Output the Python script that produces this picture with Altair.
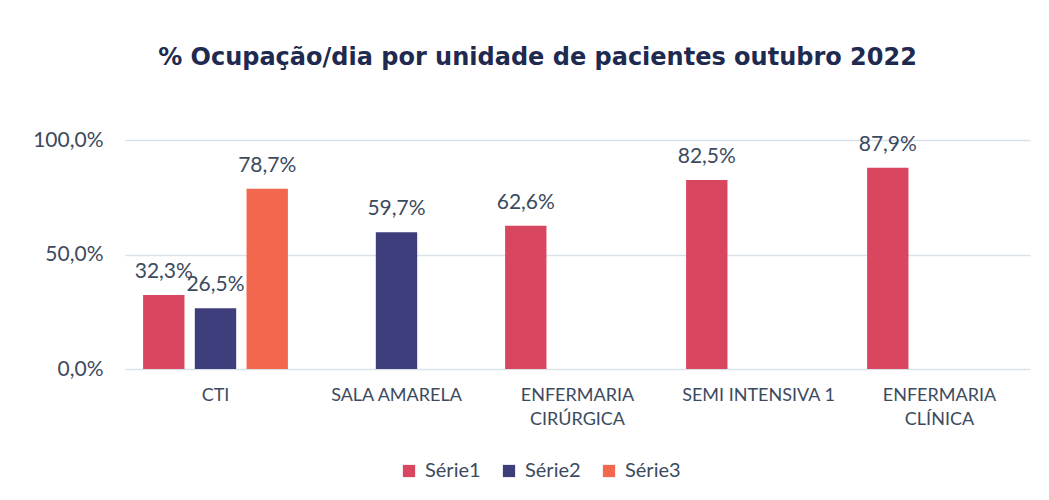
import altair as alt
import pandas as pd

categories = ["CTI", "SALA AMARELA", "ENFERMARIA CIRÚRGICA", "SEMI INTENSIVA 1", "ENFERMARIA CLÍNICA"]
series_names = ["Série1", "Série2", "Série3"]
serie1 = [0.323, None, 0.626, 0.825, 0.879]
serie2 = [0.265, 0.597, None, None, None]
serie3 = [0.787, None, None, None, None]
colors = ["#D8465F", "#3F3E7D", "#F2684F"]

rows = []
for name, vals in zip(series_names, [serie1, serie2, serie3]):
    for cat, v in zip(categories, vals):
        if v is not None:
            rows.append({"unidade": cat, "serie": name, "valor": v})
df = pd.DataFrame(rows)

FONT = "Lato"
TXT = "#3C4A5E"

base = alt.Chart(df).encode(
    x=alt.X("unidade:N", sort=categories, title=None,
            scale=alt.Scale(paddingInner=0.2, paddingOuter=0.1),
            axis=alt.Axis(labelAngle=0, labelFont=FONT, labelFontSize=18, labelColor=TXT,
                          labelPadding=17, ticks=False, domain=False, labelLimit=300,
                          labelLineHeight=24,
                          labelExpr="indexof(datum.value, 'ENFERMARIA ') == 0 ? ['ENFERMARIA', substring(datum.value, 11)] : datum.value")),
    xOffset=alt.XOffset("serie:N", sort=series_names,
                        scale=alt.Scale(domain=series_names, paddingInner=0.2, paddingOuter=0.0)),
    y=alt.Y("valor:Q", title=None,
            scale=alt.Scale(domain=[0, 1]),
            axis=alt.Axis(values=[0, 0.5, 1], labelFont=FONT, labelFontSize=21, labelColor=TXT,
                          labelPadding=22, ticks=False, domain=False, gridColor="#D9E2E8",
                          gridWidth=1.5,
                          labelExpr="replace(format(datum.value, '.1%'), '.', ',')")),
)

bars = base.mark_bar().encode(
    color=alt.Color("serie:N", sort=series_names,
                    scale=alt.Scale(domain=series_names, range=colors),
                    legend=alt.Legend(title=None, orient="none", direction="horizontal",
                                      legendX=274, legendY=321, symbolType="square",
                                      symbolSize=150, labelFont=FONT, labelFontSize=20,
                                      labelColor=TXT, columnPadding=18, labelOffset=6,
                                      symbolOpacity=1))
)

labels = base.mark_text(dy=-17, baseline="alphabetic", font=FONT, fontSize=21, color=TXT).transform_calculate(
    lbl="replace(format(datum.valor, '.1%'), '.', ',')"
).encode(text="lbl:N")

chart = (bars + labels).properties(
    width=905, height=229,
    padding={"left": 117, "top": 132, "right": 10, "bottom": 122},
    autosize=alt.AutoSizeParams(type="none"),
    title=alt.TitleParams("% Ocupação/dia por unidade de pacientes outubro 2022",
                          font="DejaVu Sans", fontSize=24, fontWeight="bold", color="#1F2A50",
                          offset=59, dx=-40),
).configure_view(stroke=None)

chart.save("out.html", embed_options={"renderer": "svg", "actions": False})
